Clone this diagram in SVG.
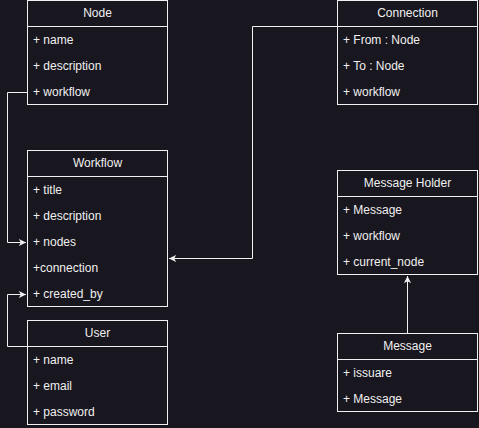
<svg xmlns="http://www.w3.org/2000/svg" width="479" height="428" viewBox="0 0 479 428">
<style>
.box{fill:#18161e;stroke:#f0f0f0;stroke-width:1}
.t{font-family:"Liberation Sans",Arial,sans-serif;font-size:12px;fill:#f0f0f0}
.h{text-anchor:middle}
.c{fill:none;stroke:#f0f0f0;stroke-width:1}
</style>
<defs>
<marker id="arr" viewBox="0 0 10 10" refX="9" refY="5" markerWidth="8" markerHeight="8" markerUnits="userSpaceOnUse" orient="auto">
<path d="M9,5 L0,0.5 L2.5,5 L0,9.5 Z" fill="#f0f0f0"/>
</marker>
</defs>
<rect width="479" height="428" fill="#18161e"/>
<g id="connectors">
<path class="c" d="M27.5,92.5 H7.5 V242.5 H26" marker-end="url(#arr)"/>
<path class="c" d="M337.5,26.5 H252.5 V258.5 H169" marker-end="url(#arr)"/>
<path class="c" d="M27.5,346.5 H7.5 V294.5 H26" marker-end="url(#arr)"/>
<path class="c" d="M407.5,333.5 V276" marker-end="url(#arr)"/>
</g>
<g id="node-Node">
<rect class="box" x="27.5" y="0.5" width="140" height="104"/>
<line class="c" x1="27.5" y1="26.5" x2="167.5" y2="26.5"/>
<text class="t h" x="97.5" y="17">Node</text>
<text class="t" x="33" y="44">+ name</text>
<text class="t" x="33" y="70">+ description</text>
<text class="t" x="33" y="96">+ workflow</text>
</g>
<g id="node-Workflow">
<rect class="box" x="27.5" y="150.5" width="140" height="156"/>
<line class="c" x1="27.5" y1="176.5" x2="167.5" y2="176.5"/>
<text class="t h" x="97.5" y="167">Workflow</text>
<text class="t" x="33" y="194">+ title</text>
<text class="t" x="33" y="220">+ description</text>
<text class="t" x="33" y="246">+ nodes</text>
<text class="t" x="33" y="272">+connection</text>
<text class="t" x="33" y="298">+ created_by</text>
</g>
<g id="node-User">
<rect class="box" x="27.5" y="320.5" width="140" height="104"/>
<line class="c" x1="27.5" y1="346.5" x2="167.5" y2="346.5"/>
<text class="t h" x="97.5" y="337">User</text>
<text class="t" x="33" y="364">+ name</text>
<text class="t" x="33" y="390">+ email</text>
<text class="t" x="33" y="416">+ password</text>
</g>
<g id="node-Connection">
<rect class="box" x="337.5" y="0.5" width="140" height="104"/>
<line class="c" x1="337.5" y1="26.5" x2="477.5" y2="26.5"/>
<text class="t h" x="407.5" y="17">Connection</text>
<text class="t" x="343" y="44">+ From : Node</text>
<text class="t" x="343" y="70">+ To : Node</text>
<text class="t" x="343" y="96">+ workflow</text>
</g>
<g id="node-MessageHolder">
<rect class="box" x="337.5" y="170.5" width="140" height="104"/>
<line class="c" x1="337.5" y1="196.5" x2="477.5" y2="196.5"/>
<text class="t h" x="407.5" y="187">Message Holder</text>
<text class="t" x="343" y="214">+ Message</text>
<text class="t" x="343" y="240">+ workflow</text>
<text class="t" x="343" y="266">+ current_node</text>
</g>
<g id="node-Message">
<rect class="box" x="337.5" y="333.5" width="140" height="78"/>
<line class="c" x1="337.5" y1="359.5" x2="477.5" y2="359.5"/>
<text class="t h" x="407.5" y="350">Message</text>
<text class="t" x="343" y="377">+ issuare</text>
<text class="t" x="343" y="403">+ Message</text>
</g>
</svg>
